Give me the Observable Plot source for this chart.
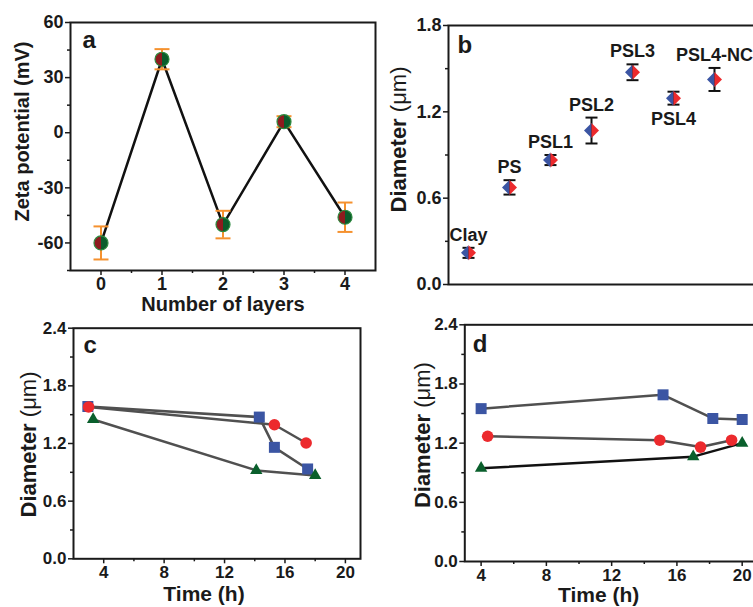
<!DOCTYPE html>
<html><head><meta charset="utf-8">
<script src="https://cdn.jsdelivr.net/npm/d3@7"></script>
<script src="https://cdn.jsdelivr.net/npm/@observablehq/plot@0.6"></script>
<style>
html,body{margin:0;padding:0;background:#fff;overflow:hidden;}
#fig{position:relative;width:753px;height:607px;overflow:hidden;background:#fff;}
#fig > svg{position:absolute;}
</style></head><body><div id="fig"></div>
<script>
// ---------- DATA ----------
// Panel a: zeta potential vs number of layers
const layers = [0, 1, 2, 3, 4];
const zeta = [-60, 40, -50, 6, -46];
const zetaErr = [9, 5.5, 7.5, 3, 8];
const zetaTicks = [-60, -30, 0, 30, 60];
const zetaMinor = [-75, -45, -15, 15, 45];
const layerTicks = [0, 1, 2, 3, 4];
const layerMinor = [0.5, 1.5, 2.5, 3.5];

// Panel b: diameter per sample
const samples = ["Clay", "PS", "PSL1", "PSL2", "PSL3", "PSL4", "PSL4-NC"];
const diam = [0.22, 0.675, 0.865, 1.07, 1.475, 1.295, 1.425];
const diamErr = [0.035, 0.05, 0.035, 0.09, 0.055, 0.045, 0.08];
const diamTicks = [0, 0.6, 1.2, 1.8];
const diamMinor = [0.3, 0.9, 1.5];

// Panel c: diameter vs time
const cRedT = [3.0, 15.3, 17.4];
const cRedD = [1.58, 1.395, 1.205];
const cBlueT = [2.95, 14.3, 15.3, 17.5];
const cBlueD = [1.585, 1.475, 1.16, 0.935];
const cGreenT = [3.3, 14.1, 18.0];
const cGreenD = [1.45, 0.92, 0.867];

// Panel d: diameter vs time
const dBlueT = [4, 15.15, 18.2, 20];
const dBlueD = [1.55, 1.69, 1.45, 1.44];
const dRedT = [4.4, 14.95, 17.45, 19.35];
const dRedD = [1.27, 1.23, 1.16, 1.23];
const dGreenT = [4, 17, 20];
const dGreenD = [0.946, 1.063, 1.2];

const timeTicks = [4, 8, 12, 16, 20];
const timeMinor = [6, 10, 14, 18];
const diamTicksCD = [0, 0.6, 1.2, 1.8, 2.4];
const diamMinorCD = [0.3, 0.9, 1.5, 2.1];

// ---------- HELPERS ----------
const fig = document.getElementById("fig");
const FONT = "'Liberation Sans', Arial, Helvetica, sans-serif";
const INK = "#1a1a1a";
const baseStyle = fs => ({fontFamily: FONT, fontSize: fs + "px", fontWeight: "bold", color: INK,
  background: "transparent", overflow: "visible", maxWidth: "none"});
const halfCircle = side => ({draw(ctx, size) {
  const r = Math.sqrt(size / Math.PI);
  ctx.moveTo(0, -r); ctx.arc(0, 0, r, -Math.PI / 2, Math.PI / 2, side < 0); ctx.closePath();
}});
const halfDiamond = side => ({draw(ctx, size) {
  const r = Math.sqrt(size / Math.PI);
  ctx.moveTo(0, -r); ctx.lineTo(side * r, 0); ctx.lineTo(0, r); ctx.closePath();
}});
const cap = {draw(ctx, size) {
  const r = Math.sqrt(size / Math.PI);
  ctx.moveTo(-r, 0); ctx.lineTo(r, 0);
}};
const fmt1 = d3.format(".1f");
function place(svg, left, top) {
  svg.style.left = left + "px"; svg.style.top = top + "px"; fig.appendChild(svg);
}
function axes(xt, xm, yt, ym, yfmt, xfmt) {
  const m = [];
  if (xt) m.push(Plot.axisX({ticks: xt, tickSize: 5, tickPadding: 2, tickFormat: xfmt, label: null, stroke: INK, strokeWidth: 1.5}));
  if (xm) m.push(Plot.axisX({ticks: xm, tickSize: 3, tickFormat: () => "", label: null, stroke: INK, strokeWidth: 1.5}));
  m.push(Plot.axisY({ticks: yt, tickSize: 5, tickPadding: 2, tickFormat: yfmt, label: null, stroke: INK, strokeWidth: 1.5}));
  m.push(Plot.axisY({ticks: ym, tickSize: 3, tickFormat: () => "", label: null, stroke: INK, strokeWidth: 1.5}));
  m.push(Plot.frame({stroke: INK, strokeWidth: 2}));
  return m;
}
const yTitle = (label, dx, dy) => Plot.text([label], {frameAnchor: "left", rotate: -90, dx, dy, fontSize: label.startsWith("Zeta") ? 20 : 22, textAnchor: "middle", lineAnchor: "middle"});
const ORANGE = "#F5912E", DRED = "#8E1B1E", DGREEN = "#0B5C2C", OGREEN = "#2E8B40";
const BLUE = "#3B55A3", RED = "#EC2A2D", GREEN = "#0A5F2C", GRAY = "#505050";

// ---------- PANEL a ----------
const aData = layers.map((x, i) => ({x, y: zeta[i], e: zetaErr[i]}));
place(Plot.plot({
  width: 380, height: 315, marginLeft: 70, marginRight: 5, marginTop: 22, marginBottom: 45,
  x: {domain: [-0.5, 4.5], label: null}, y: {domain: [-75, 60], label: null},
  style: baseStyle(18),
  marks: [
    ...axes(layerTicks, layerMinor, zetaTicks, zetaMinor, d => String(d), d => String(d)),
    Plot.line(aData, {x: "x", y: "y", stroke: "#111", strokeWidth: 2.5}),
    Plot.ruleX(aData, {x: "x", y1: d => d.y - d.e, y2: d => d.y + d.e, stroke: ORANGE, strokeWidth: 2}),
    Plot.dot(aData, {x: "x", y: d => d.y - d.e, symbol: cap, r: 7.5, stroke: ORANGE, strokeWidth: 2, fill: "none"}),
    Plot.dot(aData, {x: "x", y: d => d.y + d.e, symbol: cap, r: 7.5, stroke: ORANGE, strokeWidth: 2, fill: "none"}),
    Plot.dot(aData, {x: "x", y: "y", symbol: halfCircle(-1), r: 7, fill: DRED, stroke: "none"}),
    Plot.dot(aData, {x: "x", y: "y", symbol: halfCircle(1), r: 7, fill: DGREEN, stroke: "none"}),
    Plot.dot(aData, {x: "x", y: "y", r: 7, fill: "none", stroke: OGREEN, strokeWidth: 1.2}),
    Plot.text(["a"], {frameAnchor: "top-left", dx: 12, dy: 18.3, fontSize: 24, textAnchor: "start", lineAnchor: "middle"}),
    yTitle("Zeta potential (mV)", -48, -15),
    Plot.text(["Number of layers"], {frameAnchor: "bottom", dy: 34, fontSize: 20, lineAnchor: "middle"})
  ]
}), 0, 0);

// ---------- PANEL b ----------
const bData = samples.map((s, i) => ({s, v: diam[i], e: diamErr[i]}));
const below = new Set(["PSL4"]);
place(Plot.plot({
  width: 400, height: 300, marginLeft: 78, marginRight: 5, marginTop: 25, marginBottom: 16,
  x: {type: "point", domain: samples, padding: 0.838, align: 0.285, label: null, axis: null},
  y: {domain: [0, 1.8], label: null},
  style: baseStyle(18),
  marks: [
    ...axes(null, null, diamTicks, diamMinor, fmt1),
    Plot.ruleX(bData, {x: "s", y1: d => d.v - d.e, y2: d => d.v + d.e, stroke: "#111", strokeWidth: 2}),
    Plot.dot(bData, {x: "s", y: d => d.v - d.e, symbol: cap, r: 6, stroke: "#111", strokeWidth: 2, fill: "none"}),
    Plot.dot(bData, {x: "s", y: d => d.v + d.e, symbol: cap, r: 6, stroke: "#111", strokeWidth: 2, fill: "none"}),
    Plot.dot(bData, {x: "s", y: "v", symbol: halfDiamond(-1), r: 7.5, fill: BLUE, stroke: "none"}),
    Plot.dot(bData, {x: "s", y: "v", symbol: halfDiamond(1), r: 7.5, fill: RED, stroke: "none"}),
    Plot.text(bData.filter(d => !below.has(d.s)), {x: "s", y: d => d.v + d.e, text: "s", dy: -7, lineAnchor: "bottom", fontSize: 18}),
    Plot.text(bData.filter(d => below.has(d.s)), {x: "s", y: d => d.v - d.e, text: "s", dy: 8, lineAnchor: "top", fontSize: 18}),
    Plot.text(["b"], {frameAnchor: "top-left", dx: 9, dy: 20.3, fontSize: 24, textAnchor: "start", lineAnchor: "middle"}),
    yTitle("Diameter (μm)", -50, -15.5)
  ]
}), 370, 0);

// ---------- PANEL c ----------
const rows = (T, D) => T.map((t, i) => ({t, d: D[i]}));
const cRed = rows(cRedT, cRedD), cBlue = rows(cBlueT, cBlueD), cGreen = rows(cGreenT, cGreenD);
place(Plot.plot({
  width: 370, height: 307, marginLeft: 73, marginRight: 10, marginTop: 27.7, marginBottom: 48.7,
  x: {domain: [2, 21], label: null}, y: {domain: [0, 2.4], label: null},
  style: baseStyle(17),
  marks: [
    ...axes(timeTicks, timeMinor, diamTicksCD, diamMinorCD, fmt1, d => String(d)),
    Plot.line(cBlue, {x: "t", y: "d", stroke: GRAY, strokeWidth: 2.5}),
    Plot.line(cRed, {x: "t", y: "d", stroke: GRAY, strokeWidth: 2.5}),
    Plot.line(cGreen, {x: "t", y: "d", stroke: GRAY, strokeWidth: 2.5}),
    Plot.dot(cBlue, {x: "t", y: "d", symbol: "square", r: 6.2, fill: BLUE}),
    Plot.dot(cRed, {x: "t", y: "d", r: 5.8, fill: RED}),
    Plot.dot(cGreen, {x: "t", y: "d", symbol: "triangle", r: 4.6, fill: GREEN}),
    Plot.text(["c"], {frameAnchor: "top-left", dx: 10, dy: 17.6, fontSize: 24, textAnchor: "start", lineAnchor: "middle"}),
    yTitle("Diameter (μm)", -45, 1),
    Plot.text(["Time (h)"], {frameAnchor: "bottom", dx: -13, dy: 35.5, fontSize: 21, lineAnchor: "middle"})
  ]
}), 0, 300);

// ---------- PANEL d ----------
const dRed = rows(dRedT, dRedD), dBlue = rows(dBlueT, dBlueD), dGreen = rows(dGreenT, dGreenD);
place(Plot.plot({
  width: 388, height: 307, marginLeft: 94.3, marginRight: 0, marginTop: 24.3, marginBottom: 46,
  x: {domain: [3, 21], label: null}, y: {domain: [0, 2.4], label: null},
  style: baseStyle(17),
  marks: [
    ...axes(timeTicks, timeMinor, diamTicksCD, diamMinorCD, fmt1, d => String(d)),
    Plot.line(dBlue, {x: "t", y: "d", stroke: GRAY, strokeWidth: 2.5}),
    Plot.line(dRed, {x: "t", y: "d", stroke: GRAY, strokeWidth: 2.5}),
    Plot.line(dGreen, {x: "t", y: "d", stroke: "#111", strokeWidth: 2.5}),
    Plot.dot(dBlue, {x: "t", y: "d", symbol: "square", r: 6.2, fill: BLUE}),
    Plot.dot(dRed, {x: "t", y: "d", r: 5.8, fill: RED}),
    Plot.dot(dGreen, {x: "t", y: "d", symbol: "triangle", r: 4.6, fill: GREEN}),
    Plot.text(["d"], {frameAnchor: "top-left", dx: 8, dy: 20, fontSize: 24, textAnchor: "start", lineAnchor: "middle"}),
    yTitle("Diameter (μm)", -42, -8),
    Plot.text(["Time (h)"], {frameAnchor: "bottom", dx: -13, dy: 34, fontSize: 21, lineAnchor: "middle"})
  ]
}), 370, 300);

// "(μm)" in regular weight, "Diameter" in bold
d3.selectAll("#fig text").each(function() {
  if (this.textContent === "Diameter (μm)") {
    const t = d3.select(this);
    const parent = this.querySelector("tspan") ? d3.select(this.querySelector("tspan")) : t;
    parent.text(null);
    parent.append("tspan").text("Diameter ");
    parent.append("tspan").attr("font-weight", "normal").text("(μm)");
  }
});
</script></body></html>
